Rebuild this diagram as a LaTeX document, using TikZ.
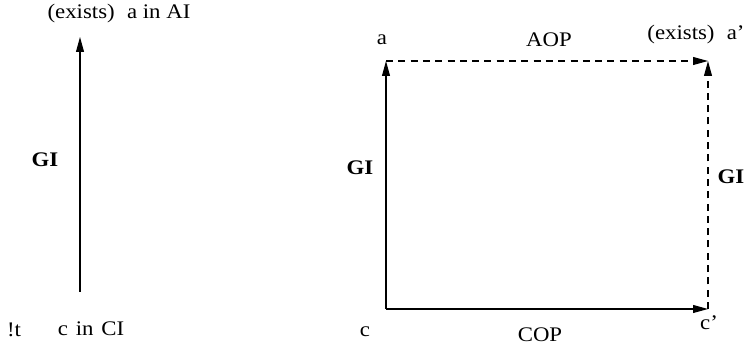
\documentclass[tikz,border=0pt]{standalone}
\usepackage{fontspec}
\setmainfont{Liberation Serif}[FakeStretch=1.1]
\usepackage{tikz}
\usetikzlibrary{arrows.meta}

\begin{document}
\begin{tikzpicture}[
    lbl/.style={inner sep=0pt, font=\fontsize{11.8}{14}\selectfont},
    gi/.style={inner sep=0pt, font=\fontsize{11.8}{14}\selectfont\bfseries},
    arrow/.style={-{Triangle[length=8.5pt,width=4.5pt]}, line width=0.6pt},
    dasharrow/.style={arrow, dash pattern=on 4pt off 3pt}
]
\useasboundingbox (0,0) rectangle (14.94,6.98);

%% ── Left: single map ────────────────────────────────────────────────────────
\coordinate (lc) at (1.60, 1.14);
\coordinate (la) at (1.60, 6.24);
\node[lbl] (ltop) at (2.38, 6.70) {(exists)\hspace{7pt}a in AI};
\node[lbl] (lbot) at (1.82, 0.40) {c\hspace{4.5pt}in\hspace{4.5pt}CI};
\node[lbl] (bang) at (0.28, 0.38) {!t};
\node[gi]  (lgi)  at (0.90, 3.78) {GI};
\draw[arrow] (lc) -- (la);

%% ── Right: square ───────────────────────────────────────────────────────────
\coordinate (a)  at (7.72, 5.76);
\coordinate (a2) at (14.16, 5.76);
\coordinate (c)  at (7.72, 0.80);
\coordinate (c2) at (14.16, 0.80);

\node[lbl] (alab)  at (7.64, 6.18)  {a};
\node[lbl] (aop)   at (10.98, 6.18) {AOP};
\node[lbl] (a2lab) at (13.92, 6.28) {(exists)\hspace{7pt}a'};
\node[gi]  (gil)   at (7.20, 3.62)  {GI};
\node[gi]  (gir)   at (14.62, 3.44) {GI};
\node[lbl] (clab)  at (7.30, 0.34)  {c};
\node[lbl] (cop)   at (10.80, 0.28) {COP};
\node[lbl] (c2lab) at (14.18, 0.52) {c'};

%% ── Arrows ──────────────────────────────────────────────────────────────────
\draw[arrow]     (c)  -- (a);
\draw[arrow]     (c)  -- (c2);
\draw[dasharrow] (a)  -- (a2);
\draw[dasharrow] (c2) -- (a2);

\end{tikzpicture}
\end{document}
